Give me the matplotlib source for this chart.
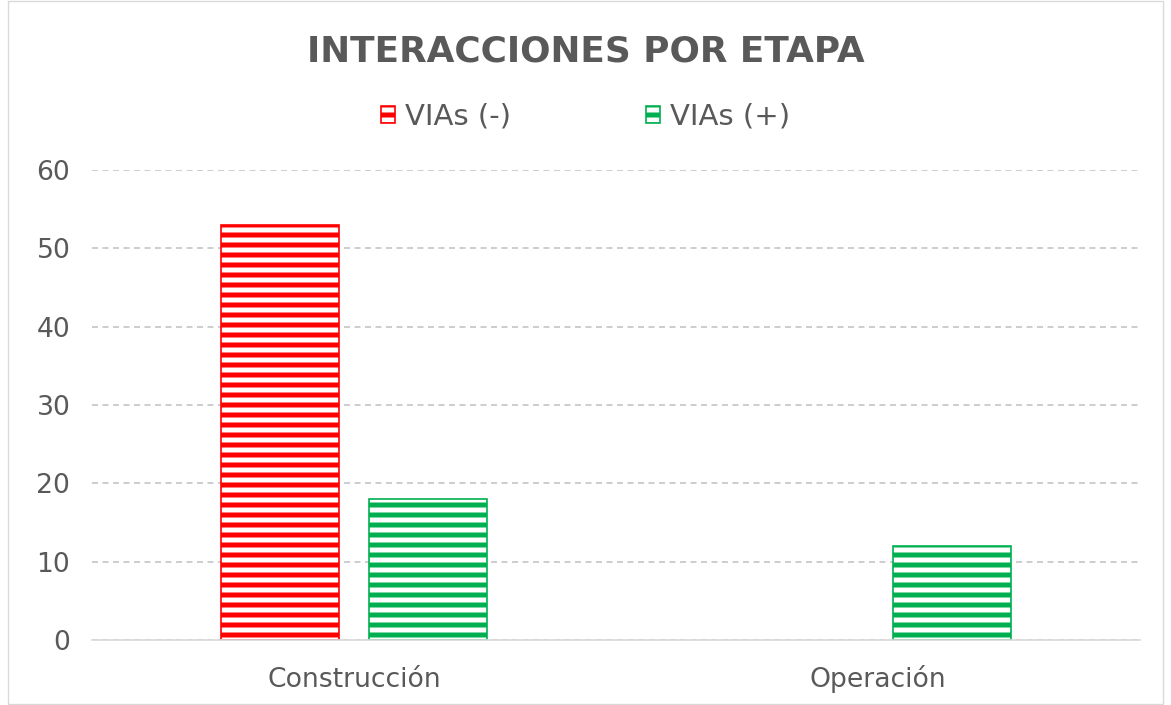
import matplotlib
matplotlib.use('Agg')
import matplotlib.pyplot as plt
import numpy as np
from matplotlib.patches import Rectangle

categories = ['Construcción', 'Operación']
vias_neg = [53, 0]
vias_pos = [18, 12]
series_names = ['VIAs (-)', 'VIAs (+)']
yticks = [0, 10, 20, 30, 40, 50, 60]

red = '#ff0000'
green = '#00b050'
grey = '#595959'

DPI = 120
W, H = 1171, 705

plt.rcParams['font.family'] = ['DejaVu Sans']
plt.rcParams['hatch.linewidth'] = 3.0

fig = plt.figure(figsize=(W / DPI, H / DPI), dpi=DPI)
ax = fig.add_axes([92/W, 1-640/H, (1140-92)/W, (640-170)/H])

x = np.arange(len(categories))
w = 0.225
off = 0.142
b1 = ax.bar(x - off, vias_neg, w, facecolor='white', edgecolor=red, hatch='--', linewidth=1.0)
b2 = ax.bar(x + off, vias_pos, w, facecolor='white', edgecolor=green, hatch='--', linewidth=1.0)
# zero-height bars should not leave an outline on the axis
for bar, v in zip(b1, vias_neg):
    if v == 0:
        bar.set_visible(False)

ax.set_xlim(-0.5, 1.5)
ax.set_ylim(0, 60)
ax.set_yticks(yticks)
ax.set_xticks(x)
ax.set_xticklabels(categories, va='baseline')
ax.tick_params(axis='both', length=0, labelsize=16, colors=grey)
ax.tick_params(axis='y', pad=13)
ax.tick_params(axis='x', pad=28)
ax.yaxis.grid(True, linestyle=(0, (4, 3)), color='#bfbfbf', linewidth=0.9)
ax.set_axisbelow(True)
for s in ['top', 'right', 'left']:
    ax.spines[s].set_visible(False)
ax.spines['bottom'].set_color('#d9d9d9')
ax.spines['bottom'].set_linewidth(1.0)

fig.text(0.5, 1-51/H, 'INTERACCIONES POR ETAPA', ha='center', va='center',
         fontsize=21.5, fontweight='bold', color=grey)

h1 = Rectangle((0, 0), 1, 1, facecolor='white', edgecolor=red, hatch='--', linewidth=1.0)
h2 = Rectangle((0, 0), 1, 1, facecolor='white', edgecolor=green, hatch='--', linewidth=1.0)
leg = fig.legend([h1, h2], series_names, loc='center', bbox_to_anchor=(0.5, 1-117/H),
                 ncol=2, frameon=False, fontsize=17.5, handlelength=0.5, handleheight=0.5,
                 handletextpad=0.35, columnspacing=4.6)
for t in leg.get_texts():
    t.set_color(grey)

fig.patches.append(Rectangle((8/W, 0.002), 1-16/W, 0.996, transform=fig.transFigure,
                             fill=False, edgecolor='#d9d9d9', linewidth=0.8))

fig.savefig('out.png', dpi=DPI)
